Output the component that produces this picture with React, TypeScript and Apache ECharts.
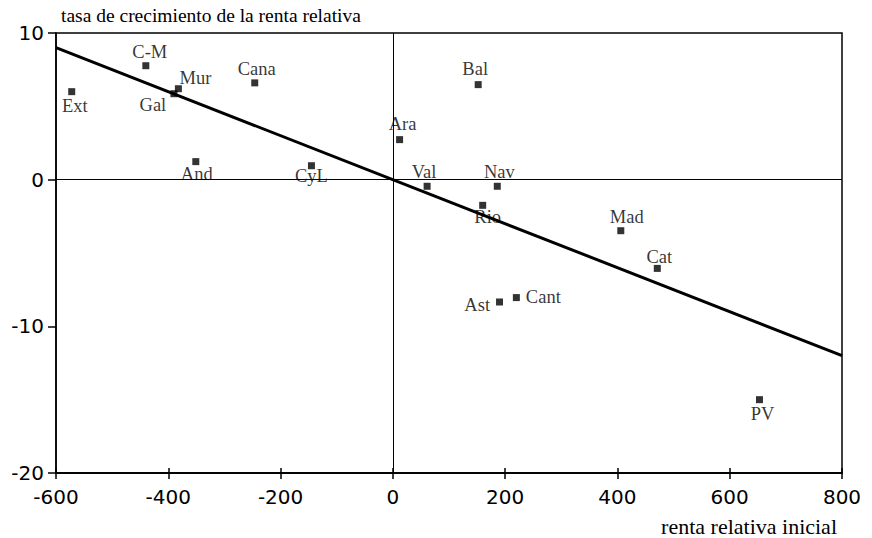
import React, { useEffect, useRef } from "react";
import * as echarts from "echarts";

const regions = ["Ext", "C-M", "Mur", "Gal", "Cana", "And", "CyL", "Ara", "Bal", "Val", "Nav", "Rio", "Mad", "Cat", "Ast", "Cant", "PV"];
const rentaInicial = [-572, -440, -382, -390, -246, -351, -145, 12, 152, 61, 186, 160, 406, 471, 190, 220, 653];
const tasaCrecimiento = [6.0, 7.77, 6.2, 5.86, 6.6, 1.23, 0.95, 2.73, 6.48, -0.45, -0.45, -1.75, -3.48, -6.05, -8.34, -8.04, -15.0];
const regressionX = [-600, 800];
const regressionY = [9, -12];
const xTicks = [-600, -400, -200, 0, 200, 400, 600, 800];
const yTicks = [-20, -10, 0, 10];

const yTitle = "tasa de crecimiento de la renta relativa";
const xTitle = "renta relativa inicial";

const labelPlacement: Record<string, { position: string; offset: number[]; distance: number }> = {
  Ext: { position: "bottom", offset: [3, -2], distance: 3 },
  "C-M": { position: "top", offset: [4, 2], distance: 3 },
  Mur: { position: "top", offset: [17, 4], distance: 2 },
  Gal: { position: "bottom", offset: [-21, -4], distance: 2 },
  Cana: { position: "top", offset: [2, 2], distance: 3 },
  And: { position: "bottom", offset: [1, -3], distance: 2 },
  CyL: { position: "bottom", offset: [0, -5], distance: 2 },
  Ara: { position: "top", offset: [3, 0], distance: 3 },
  Bal: { position: "top", offset: [-3, 0], distance: 3 },
  Val: { position: "top", offset: [-3, 2], distance: 3 },
  Nav: { position: "top", offset: [2, 2], distance: 3 },
  Rio: { position: "bottom", offset: [5, -3], distance: 2 },
  Mad: { position: "top", offset: [6, 2], distance: 3 },
  Cat: { position: "top", offset: [2, 4], distance: 2 },
  Ast: { position: "left", offset: [0, 3], distance: 6 },
  Cant: { position: "right", offset: [0, -1], distance: 6 },
  PV: { position: "bottom", offset: [3, -2], distance: 3 },
};

export default function App() {
  const ref = useRef<HTMLDivElement>(null);
  useEffect(() => {
    if (!ref.current) return;
    const chart = echarts.init(ref.current, null, { renderer: "svg" });
    const serif = "'Liberation Serif', 'Times New Roman', serif";
    const sans = "'DejaVu Sans', sans-serif";
    const points = regions.map((name, i) => {
      const p = labelPlacement[name];
      return {
        name,
        value: [rentaInicial[i], tasaCrecimiento[i]],
        label: { show: true, position: p.position, offset: p.offset, distance: p.distance },
      };
    });
    const axisCommon = {
      type: "value",
      splitLine: { show: false },
      axisLine: { show: true, onZero: false, lineStyle: { color: "#000", width: 1.5 } },
      axisTick: { show: true, length: 6, lineStyle: { color: "#000", width: 1.5 } },
      axisLabel: { color: "#000", fontFamily: sans, fontSize: 20 },
    };
    chart.setOption({
      animation: false,
      backgroundColor: "#fff",
      grid: { left: 56, right: 30, top: 33, bottom: 65, show: true, borderColor: "#000", borderWidth: 1.5, backgroundColor: "transparent" },
      xAxis: [
        {
          ...axisCommon,
          min: xTicks[0],
          max: xTicks[xTicks.length - 1],
          interval: 200,
          position: "bottom",
          axisLabel: { ...axisCommon.axisLabel, margin: 14 },
        },
        {
          ...axisCommon,
          min: xTicks[0],
          max: xTicks[xTicks.length - 1],
          interval: 200,
          position: "bottom",
          axisTick: { show: true, inside: true, length: 5, lineStyle: { color: "#000", width: 1.5 } },
          axisLabel: { show: false },
        },
      ],
      yAxis: [
        {
          ...axisCommon,
          min: yTicks[0],
          max: yTicks[yTicks.length - 1],
          interval: 10,
          position: "left",
          axisTick: { show: true, length: 8, lineStyle: { color: "#000", width: 1.5 } },
          axisLabel: { ...axisCommon.axisLabel, margin: 12 },
        },
      ],
      graphic: [
        { type: "text", left: 61, top: 5, style: { text: yTitle, font: `19.5px ${serif}`, fill: "#000" } },
        { type: "text", right: 35, top: 515, style: { text: xTitle, font: `22px ${serif}`, fill: "#000" } },
      ],
      series: [
        {
          type: "line",
          data: regressionX.map((x, i) => [x, regressionY[i]]),
          symbol: "none",
          lineStyle: { color: "#000", width: 3 },
          z: 3,
          markLine: {
            silent: true,
            symbol: ["none", "none"],
            label: { show: false },
            lineStyle: { color: "#000", width: 1, type: "solid" },
            data: [{ xAxis: 0 }, { yAxis: 0 }],
          },
        },
        {
          type: "scatter",
          data: points,
          symbol: "rect",
          symbolSize: 7,
          itemStyle: { color: "#000" },
          label: { show: true, formatter: "{b}", color: "#000", fontFamily: serif, fontSize: 18.5 },
          z: 4,
        },
      ],
    });
    return () => chart.dispose();
  }, []);
  return <div ref={ref} style={{ width: 872, height: 538, position: "absolute", left: 0, top: 0 }} />;
}
